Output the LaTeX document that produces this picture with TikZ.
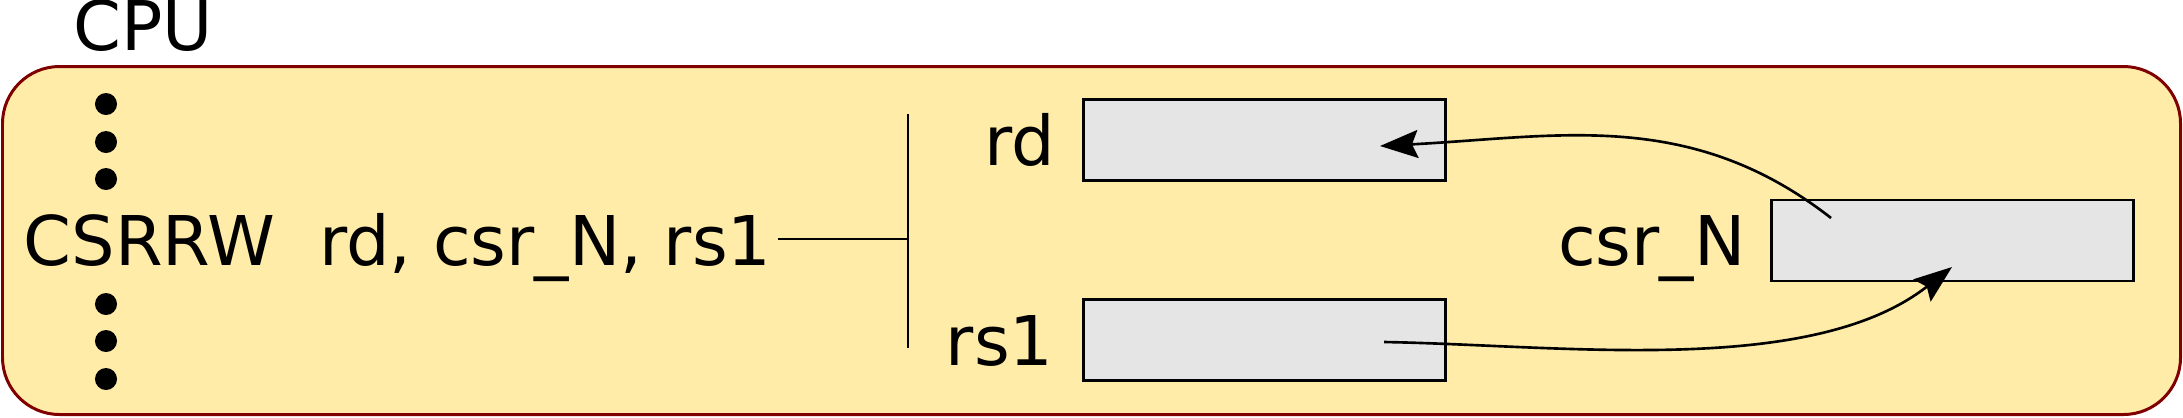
\documentclass[tikz,border=0pt]{standalone}
\usepackage{fontspec}
\setmainfont{DejaVu Sans}
\usetikzlibrary{positioning,arrows.meta}

\definecolor{cpufill}{RGB}{255,236,168}
\definecolor{cpuedge}{RGB}{128,0,0}
\definecolor{regfill}{RGB}{229,229,229}

\begin{document}
\begin{tikzpicture}[x=0.01cm, y=0.01cm,
    >={Stealth[length=3.8mm, width=2.8mm, inset=0.6mm]},
    txt/.style={inner sep=0pt, font=\fontsize{19.5pt}{23pt}\selectfont},
    lbl/.style={txt, text height=0.5cm, text depth=0pt},
    reg/.style={draw, line width=0.7pt, fill=regfill, inner sep=0pt,
                minimum width=3.62cm, minimum height=0.81cm},
    dot/.style={circle, fill, inner sep=0pt, minimum size=0.22cm}]

  \useasboundingbox (0,0) rectangle (2183,417);

  % CPU blok
  \draw[line width=0.85pt, draw=cpuedge, fill=cpufill, rounded corners=5.7mm]
    (2.5,2.5) rectangle (2180.5,350.5);
  \node[txt, anchor=base west] (cpu) at (73,367) {CPU};

  % Instructie
  \node[txt, anchor=base west] (instr) at (23,152) {CSRRW~~rd, csr\_N, rs1};

  % Puntjes boven en onder
  \foreach \y in {313,275,238,113,76,38}
    \node[dot] (dot\y) at (106,\y) {};

  % Vertakking naar de operanden
  \coordinate (brTop)  at (908,303);
  \coordinate (brBot)  at (908,69);
  \coordinate (brMid)  at (908,178);
  \coordinate (opsEnd) at (778,178);

  \draw[line width=0.7pt] (brTop) -- (brBot);
  \draw[line width=0.7pt] (opsEnd) -- (brMid);

  % Registers
  \node[reg] (rdReg)  at (1264.5,277)   {};
  \node[reg] (rsReg)  at (1264.5,77)    {};
  \node[reg] (csrReg) at (1952.5,176.5) {};

  \node[lbl, left=0.26cm of rdReg]  (rdLbl)  {rd};
  \node[lbl, left=0.28cm of rsReg]  (rsLbl)  {rs1};
  \node[lbl, left=0.24cm of csrReg] (csrLbl) {csr\_N};

  % Pijlen
  \coordinate (csrOut) at ([shift={(-121.5,22.5)}]csrReg.center);
  \coordinate (rdIn)   at ([shift={(115.5,-6)}]rdReg.center);
  \coordinate (rsOut)  at ([shift={(119.5,-2)}]rsReg.center);
  \coordinate (csrIn)  at ([shift={(-0.5,-26.5)}]csrReg.center);

  \draw[->, line width=0.75pt] (csrOut) to[out=142, in=3] (rdIn);
  \draw[->, line width=0.75pt] (rsOut) to[out=-1, in=218, looseness=0.8] (csrIn);

\end{tikzpicture}
\end{document}
